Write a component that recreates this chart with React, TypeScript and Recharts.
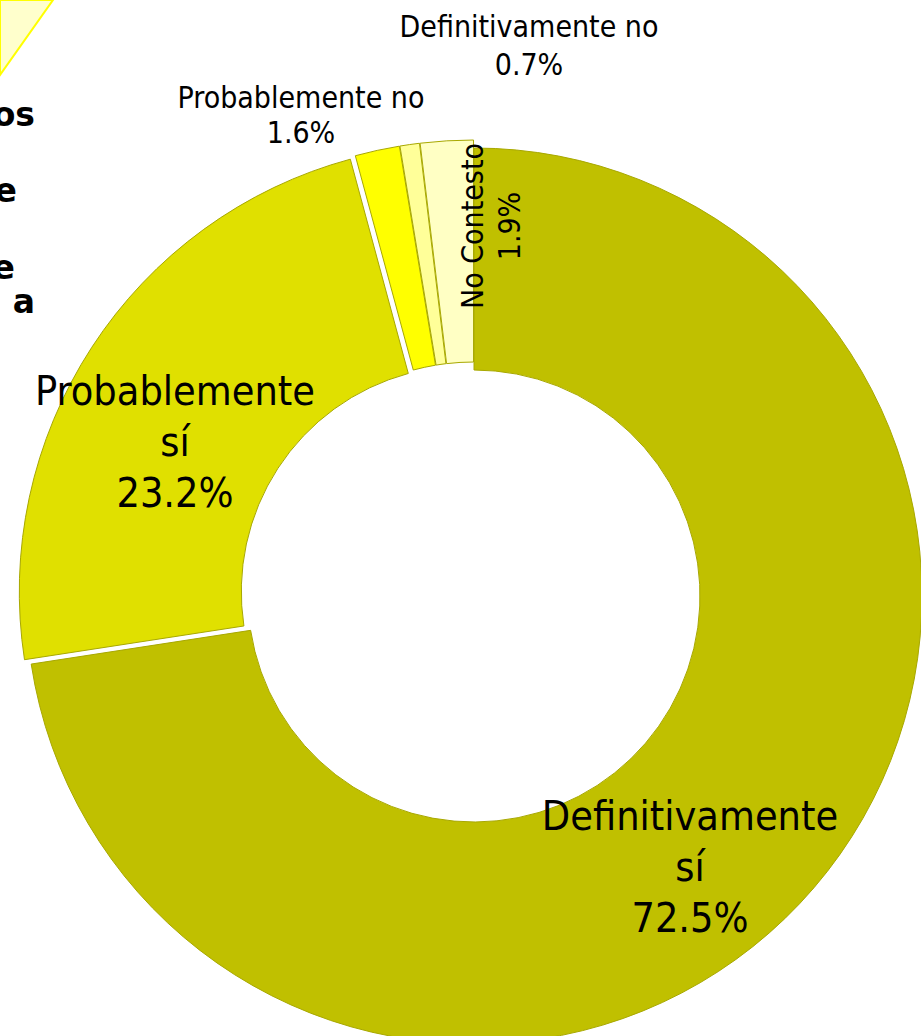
import React from "react";
import { Customized, Pie, PieChart, Sector } from "recharts";

// answers, in clockwise order from 12 o'clock
const categories = [
  "Definitivamente sí",
  "Probablemente sí",
  "Probablemente no",
  "Definitivamente no",
  "No Contesto"
];
const shares = [72.5, 23.2, 1.6, 0.7, 1.9];
const sliceColors = ["#C0C000", "#E0E000", "#FFFF00", "#FFFF99", "#FFFFC4"];

// how far each slice is pulled out of the ring
const explode = [0, 8, 8, 8, 8];

// label placement, relative to the pie centre (first baseline, text centre)
const labelLayout = [
  { dx: 216, dy: 234, size: 41, lh: 51, wrap: true, rotate: 0 },
  { dx: -299, dy: -191, size: 41, lh: 51, wrap: true, rotate: 0 },
  { dx: -173, dy: -488, size: 30, lh: 35, wrap: false, rotate: 0 },
  { dx: 55, dy: -559, size: 30, lh: 38, wrap: false, rotate: 0 },
  { dx: 9, dy: -370, size: 30, lh: 37, wrap: false, rotate: -90 }
];

// cut-off bold text of the neighbouring text box
const sideFragments = [
  { text: "os", x: 35, y: 126 },
  { text: "e", x: 17, y: 202 },
  { text: "e", x: 15, y: 279 },
  { text: "a", x: 35, y: 313 }
];

const FONT = "'DejaVu Sans Condensed', 'DejaVu Sans', sans-serif";
const RAD = Math.PI / 180;

const chartData = categories.map((name, i) => ({ name, value: shares[i], fill: sliceColors[i] }));

function ExplodedSector(props: any) {
  const d = explode[props.index] ?? 0;
  const a = -props.midAngle * RAD;
  return (
    <Sector
      {...props}
      cx={props.cx + d * Math.cos(a)}
      cy={props.cy + d * Math.sin(a)}
      stroke="#A8A800"
      strokeWidth={1}
    />
  );
}

function renderLabel(props: any) {
  const { cx, cy, index, name, value } = props;
  const l = labelLayout[index];
  const x = cx + l.dx;
  const y = cy + l.dy;
  let lines: string[] = [name];
  if (l.wrap) {
    const k = name.lastIndexOf(" ");
    lines = [name.slice(0, k), name.slice(k + 1)];
  }
  lines.push(`${Number(value).toFixed(1)}%`);
  return (
    <text
      key={`lbl-${index}`}
      x={x}
      y={y}
      textAnchor="middle"
      fill="#000"
      fontFamily={FONT}
      fontSize={l.size}
      transform={l.rotate ? `rotate(${l.rotate}, ${x}, ${y})` : undefined}
    >
      {lines.map((t, i) => (
        <tspan key={i} x={x} dy={i === 0 ? 0 : l.lh}>
          {t}
        </tspan>
      ))}
    </text>
  );
}

function SideBox() {
  return (
    <g>
      <polygon points="0,0 53,0 0,75" fill="#FFFFCC" stroke="#FFFF00" strokeWidth={2} />
      {sideFragments.map((f, i) => (
        <text
          key={i}
          x={f.x}
          y={f.y}
          textAnchor="end"
          fontFamily="'DejaVu Sans', sans-serif"
          fontWeight="bold"
          fontSize={33}
          fill="#000"
        >
          {f.text}
        </text>
      ))}
    </g>
  );
}

export default function App() {
  return (
    <div style={{ position: "absolute", left: 0, top: 0, width: 921, height: 1036, background: "#fff" }}>
      <PieChart width={921} height={1036} margin={{ top: 0, right: 0, bottom: 0, left: 0 }}>
        <Customized component={SideBox} />
        <Pie
          data={chartData}
          dataKey="value"
          nameKey="name"
          cx={474}
          cy={596}
          innerRadius={226}
          outerRadius={448}
          startAngle={90}
          endAngle={-270}
          stroke="#A8A800"
          strokeWidth={1}
          shape={ExplodedSector}
          label={renderLabel}
          labelLine={false}
          isAnimationActive={false}
        />
      </PieChart>
    </div>
  );
}
